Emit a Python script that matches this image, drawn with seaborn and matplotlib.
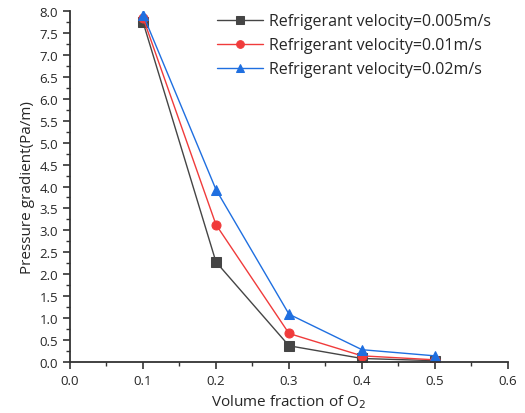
import pandas as pd
import numpy as np
import seaborn as sns
import matplotlib.pyplot as plt
from matplotlib.ticker import MultipleLocator

# data
volume_fraction = [0.1, 0.2, 0.3, 0.4, 0.5]
grad_0005 = [7.75, 2.28, 0.37, 0.08, 0.03]
grad_001 = [7.85, 3.13, 0.65, 0.14, 0.05]
grad_002 = [7.92, 3.93, 1.09, 0.28, 0.14]
labels = ['Refrigerant velocity=0.005m/s',
          'Refrigerant velocity=0.01m/s',
          'Refrigerant velocity=0.02m/s']

sns.set_style('ticks')
plt.rcParams['font.family'] = ['Open Sans', 'DejaVu Sans']

fig = plt.figure(figsize=(5.25, 4.14), dpi=100)
ax = fig.add_axes([0.1333, 0.1232, 0.8343, 0.8478])

colors = ['#454545', '#f03b3b', '#1f6fe0']
markers = ['s', 'o', '^']
for vals, lab, c, m in zip([grad_0005, grad_001, grad_002], labels, colors, markers):
    sns.lineplot(x=volume_fraction, y=vals, ax=ax, color=c, marker=m, markersize=6.5,
                 markeredgecolor=c, linewidth=1, label=lab)

ax.set_xlim(0, 0.6)
ax.set_ylim(0, 8.0)
ax.xaxis.set_major_locator(MultipleLocator(0.1))
ax.xaxis.set_minor_locator(MultipleLocator(0.05))
ax.yaxis.set_major_locator(MultipleLocator(0.5))
ax.yaxis.set_minor_locator(MultipleLocator(0.25))
ax.xaxis.set_major_formatter(plt.FormatStrFormatter('%.1f'))
ax.yaxis.set_major_formatter(plt.FormatStrFormatter('%.1f'))

for s in ['top', 'right']:
    ax.spines[s].set_visible(False)
for s in ['left', 'bottom']:
    ax.spines[s].set_linewidth(1.3)
    ax.spines[s].set_color('#333333')
ax.tick_params(which='major', length=5, width=1.2, labelsize=9.5, color='#333333')
ax.tick_params(which='minor', length=3, width=1.0, color='#333333')

ax.set_xlabel('Volume fraction of O$_2$', fontsize=11, labelpad=4)
ax.set_ylabel('Pressure gradient(Pa/m)', fontsize=11, labelpad=3)

ax.legend(loc='upper right', frameon=False, fontsize=11.5, handlelength=2.9,
          handletextpad=0.35, borderaxespad=0.0, labelspacing=0.5,
          markerscale=0.85, bbox_to_anchor=(0.976, 1.012))

plt.savefig('out.png', dpi=100)
